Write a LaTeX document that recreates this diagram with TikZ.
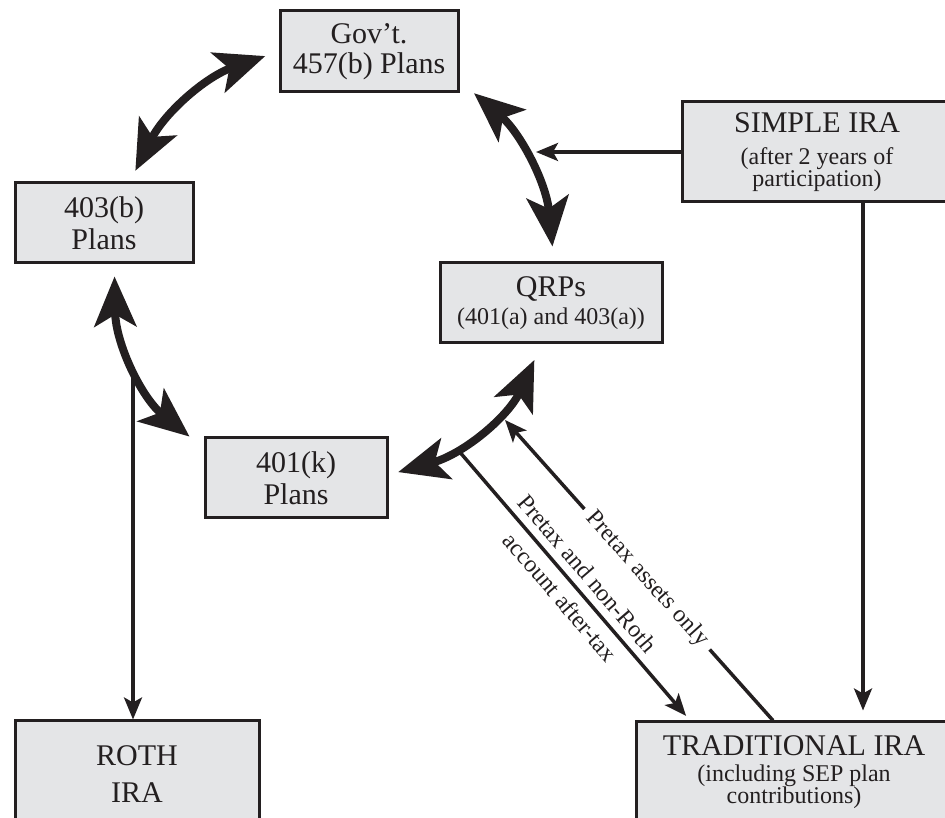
\documentclass[tikz,border=0pt]{standalone}
\usepackage{fontspec}
\setmainfont{Liberation Serif}
\usetikzlibrary{arrows.meta}
\definecolor{boxgray}{RGB}{228,229,231}
\definecolor{ink}{RGB}{35,31,32}
\newcommand{\subtxt}{\fontsize{12}{11}\selectfont}
\tikzset{
	plan/.style = {draw = ink, line width = 1.5pt, fill = boxgray, text = ink, align = center, inner sep = 0pt, font = \fontsize{15}{16}\selectfont},
	bigarrow/.style = {draw = ink, line width = 4pt, arrows = {Stealth[length=25pt,width=21pt,inset=6pt]-Stealth[length=25pt,width=21pt,inset=6pt]}},
	thinarrow/.style = {draw = ink, line width = 1.75pt, arrows = {-Stealth[length=11pt,width=9pt,inset=2.5pt]}},
	lbl/.style = {font = \fontsize{12}{18}\selectfont, text = ink, align = center, sloped}
}
\begin{document}
\begin{tikzpicture}[x = 0.5pt, y = 0.5pt]
		\useasboundingbox (0,0) rectangle (945,817);
		\clip (0,0) rectangle (945,817);
		% accounts
		\node[plan, minimum width = 89pt, minimum height = 40.5pt] (gov) at (369,765.5) {Gov't.\\[-1pt]457(b) Plans};
		\node[plan, minimum width = 89pt, minimum height = 40pt] (b403) at (104,594) {403(b)\\Plans};
		\node[plan, minimum width = 135pt, minimum height = 50pt] (simple) at (817,665) {SIMPLE IRA\\{\subtxt (after 2 years of}\\[-5pt]{\subtxt participation)}};
		\node[plan, minimum width = 111pt, minimum height = 40pt] (qrp) at (551,514) {QRPs\\[-2pt]{\subtxt (401(a) and 403(a))}};
		\node[plan, minimum width = 91pt, minimum height = 40pt] (k401) at (296,339) {401(k)\\Plans};
		\node[plan, minimum width = 122pt, minimum height = 53.5pt] (roth) at (137,42.5) {ROTH\\[2.5pt]IRA};
		\node[plan, minimum width = 158pt, minimum height = 50.5pt] (trad) at (794,44.5) {TRADITIONAL IRA\\[-3pt]{\subtxt (including SEP plan}\\[-5pt]{\subtxt contributions)}};
		% rollover circle
		\draw[bigarrow, shorten <= 6pt, shorten >= 7pt] (b403.58) to[bend left = 22] (gov.west);
		\draw[bigarrow, shorten <= 6pt, shorten >= 9pt] (b403.-76) to[bend right = 25] (k401.162);
		\draw[bigarrow, shorten <= 5pt, shorten >= 8.5pt] (k401.2) to[bend right = 25] (qrp.-103);
		\draw[bigarrow, shorten <= 9.5pt, shorten >= 7.5pt] (gov.-18) to[bend left = 22] (qrp.86);
		% one way moves
		\coordinate (simplejoin) at (536,665);
		\coordinate (sdrop) at ([xshift = 23pt]simple.south);
		\coordinate (rothjoin) at (133,450);
		\coordinate (kqjoin) at (458,367);
		\coordinate (tradin) at ([xshift = -52pt]trad.north);
		\coordinate (tradout) at ([xshift = -10.5pt]trad.north);
		\coordinate (qrptip) at (505,397);
		\draw[thinarrow] (simple.west) -- (simplejoin);
		\draw[thinarrow, shorten >= 5pt] (sdrop) -- (sdrop |- trad.north);
		\draw[thinarrow] (rothjoin) -- (rothjoin |- roth.north);
		\draw[thinarrow, shorten >= 3pt] (kqjoin) -- node[lbl] {Pretax and non-Roth\\account after-tax} (tradin);
		\draw[thinarrow] (tradout) -- node[lbl, fill = white, inner xsep = 4pt, inner ysep = 1pt, pos = 0.47] {Pretax assets only} (qrptip);
	\end{tikzpicture}
\end{document}
